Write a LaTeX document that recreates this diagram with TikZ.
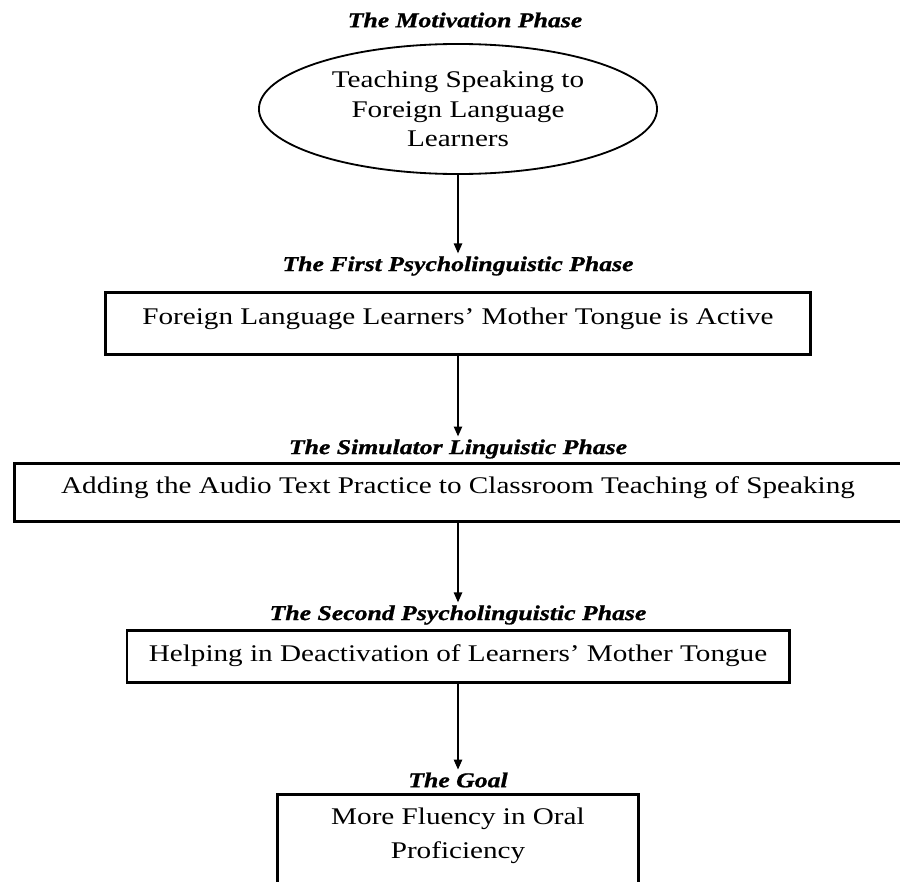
\documentclass[tikz,border=0pt]{standalone}
\usepackage{fontspec}
\setmainfont{Liberation Serif}
\newfontfamily\stagefont{Liberation Serif}[FakeStretch=1.22]
\newfontfamily\phasefont{Liberation Serif}[FakeStretch=1.22, FakeBold=1]
\usetikzlibrary{arrows.meta, shapes.geometric}
\tikzset{
    phase/.style={font=\phasefont\fontsize{15}{18}\selectfont\bfseries\itshape, inner sep=2pt}, % heading above each stage
    stagetext/.style={font=\stagefont\fontsize{17}{21}\selectfont},
    stagebox/.style={stagetext, draw, line width=2pt, anchor=north, inner sep=0pt}, % boxed stage
    flow/.style={-{Triangle[length=7pt, width=6pt]}, line width=0.8pt}
}

\begin{document}
\begin{tikzpicture}[x=0.025cm, y=-0.025cm]
    \clip (0,0) rectangle (900,881);

    \node[phase] (motivtitle) at (465,20) {The Motivation Phase};
    \node[stagetext, align=center, ellipse, draw, line width=1.3pt, inner sep=0pt,
          minimum width=9.95cm, minimum height=3.25cm] (motiv) at (458,109)
          {Teaching Speaking to\\Foreign Language\\Learners};

    \node[phase] (firsttitle) at (458,266) {The First Psycholinguistic Phase};
    \node[stagebox, minimum width=17.625cm, text height=0.8cm, text depth=0.75cm] (firstbox) at (458,291)
          {Foreign Language Learners’ Mother Tongue is Active};

    \node[phase] (simtitle) at (458,449) {The Simulator Linguistic Phase};
    \node[stagebox, minimum width=22.15cm, text height=0.75cm, text depth=0.7cm] (simbox) at (458,462)
          {Adding the Audio Text Practice to Classroom Teaching of Speaking};

    \node[phase] (secondtitle) at (458,615) {The Second Psycholinguistic Phase};
    \node[stagebox, minimum width=16.55cm, text height=0.775cm, text depth=0.525cm] (secondbox) at (458,629)
          {Helping in Deactivation of Learners’ Mother Tongue};

    \node[phase] (goaltitle) at (458,780) {The Goal};
    \node[stagebox, minimum width=9.025cm, text height=0.75cm, text depth=3cm] (goalbox) at (458,793)
          {\begin{tabular}[t]{@{}c@{}}More Fluency in Oral\\[3pt]Proficiency\end{tabular}};

    % arrows between the phases
    \foreach \from/\to in {motiv/firsttitle, firstbox/simtitle, simbox/secondtitle, secondbox/goaltitle}
        \draw[flow] (\from.south) -- (\to.north);
\end{tikzpicture}
\end{document}
